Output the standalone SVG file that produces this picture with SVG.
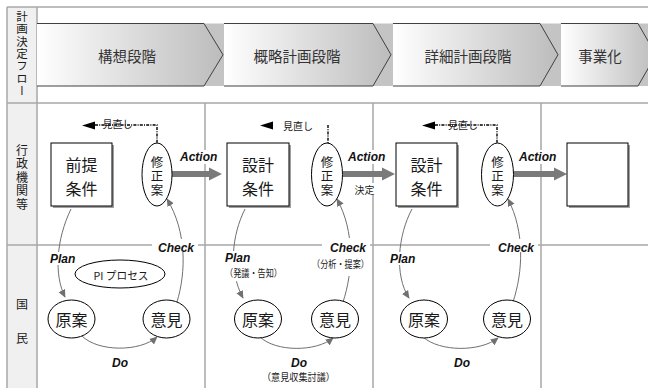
<svg xmlns="http://www.w3.org/2000/svg" width="648" height="388" viewBox="0 0 648 388">
<defs>
<style>
.grid{stroke:#a8a8a8;stroke-width:1.5;fill:none}
.jp{font-family:"Noto Sans CJK JP","Noto Sans CJK SC",sans-serif;fill:#1a1a1a}
.hd{font-size:14.5px;fill:#333;text-anchor:middle;dominant-baseline:central}
.en{font-family:"Liberation Sans",Arial,sans-serif;font-weight:bold;font-style:italic;font-size:12px;fill:#111}
.box{fill:#fff;stroke:#000;stroke-width:1}
.sh{fill:#a0a0a0}
.ell{fill:#fff;stroke:#000;stroke-width:1}
.cv{fill:none;stroke:#707070;stroke-width:1;marker-end:url(#ah)}
.dot{fill:none;stroke:#000;stroke-width:1.4;stroke-dasharray:3 1.2 1 1.2}
.act{fill:#7a7a7a}
.bg{fill:#fff}
.mid{text-anchor:middle;dominant-baseline:central}
.vt{writing-mode:vertical-rl;text-orientation:upright}
.sq{font-size:12.5px;letter-spacing:1.5px}
.bx{font-size:16px}
.chev{stroke:#404040;stroke-width:1;fill:none}
</style>
<linearGradient id="g" x1="0" x2="1" y1="0" y2="0"><stop offset="0" stop-color="#ffffff"/><stop offset="1" stop-color="#bcbcbc"/></linearGradient>
<marker id="ah" viewBox="0 0 10 10" refX="9" refY="5" markerWidth="8" markerHeight="8" markerUnits="userSpaceOnUse" orient="auto"><path d="M0,0.5 L10,5 L0,9.5 Z" fill="#707070"/></marker>
</defs>

<g id="grid">
<rect x="7" y="7" width="30" height="381" fill="#f0f0f0"/>
<path class="grid" d="M7,7 H648 M7,103 H648 M7,245 H648 M7,7 V388 M37,7 V388 M205,103 V388 M373,103 V388 M541,103 V388"/>
</g>

<g id="flow-header">
<rect x="37" y="23.5" width="611" height="62.5" fill="#c4c4c4"/>
<path d="M37,23.5 H204 L223,54.75 L204,86 H37 Z" fill="url(#g)"/>
<path class="chev" d="M37,23.5 H204 L223,54.75 L204,86 H37"/>
<path d="M224,23.5 H373 L391,54.75 L373,86 H224 Z" fill="url(#g)"/>
<path class="chev" d="M224,23.5 H373 L391,54.75 L373,86 H224"/>
<path d="M393,23.5 H540 L558,54.75 L540,86 H393 Z" fill="url(#g)"/>
<path class="chev" d="M393,23.5 H540 L558,54.75 L540,86 H393"/>
<path d="M561,23.5 H638 L656,54.75 L638,86 H561 Z" fill="url(#g)"/>
<path class="chev" d="M561,23.5 H638 L656,54.75 L638,86 H561"/>
<text class="jp hd" x="127" y="55">構想段階</text>
<text class="jp hd" x="297" y="55">概略計画段階</text>
<text class="jp hd" x="468" y="55">詳細計画段階</text>
<text class="jp hd" x="600" y="55">事業化</text>
</g>

<g id="row-labels">
<text class="jp vt" x="22" y="11" font-size="11.5" style="letter-spacing:0.8px">計画決定フロー</text>
<text class="jp vt" x="22" y="144" font-size="12" style="letter-spacing:1.5px">行政機関等</text>
<text class="jp mid" x="22" y="303" font-size="12">国</text>
<text class="jp mid" x="22" y="337" font-size="12">民</text>
</g>

<g id="connectors">
<path class="dot" d="M95,125 H157 V143"/>
<path d="M82,125.5 L95,121.5 L95,129.5 Z" fill="#000"/>
<path class="dot" d="M328,125 V143"/>
<path d="M260,125.5 L273,121.5 L273,129.5 Z" fill="#000"/>
<path class="dot" d="M435,125 H497 V143"/>
<path d="M422,125.5 L435,121.5 L435,129.5 Z" fill="#000"/>
<path class="cv" d="M71,209 C56,240 54,275 65,297"/>
<path class="cv" d="M177,302 C186,272 187,232 167,199"/>
<path class="cv" d="M82,336 C98,352 140,352 157,337"/>
<path class="cv" d="M245,209 C232,235 228,270 243,298"/>
<path class="cv" d="M343,302 C353,272 355,232 337,199"/>
<path class="cv" d="M260,337 C276,352 316,352 333,338"/>
<path class="cv" d="M412,209 C398,235 394,275 409,298"/>
<path class="cv" d="M513,302 C523,272 525,232 508,199"/>
<path class="cv" d="M423,337 C440,352 480,352 498,338"/>
<rect class="bg" x="152" y="239" width="46" height="13"/>
<rect class="bg" x="49" y="252" width="29" height="13"/>
<rect class="bg" x="223" y="251" width="62" height="30"/>
<rect class="bg" x="322" y="238" width="48" height="38"/>
<rect class="bg" x="389" y="252" width="29" height="13"/>
<rect class="bg" x="490" y="239" width="48" height="13"/>
<rect class="bg" x="179" y="150" width="41" height="14"/>
<rect class="bg" x="347" y="150" width="42" height="14"/>
<rect class="bg" x="353" y="183" width="23" height="12"/>
<rect class="bg" x="518" y="150" width="42" height="14"/>
<path class="act" d="M172,171 H209 V167.5 L222,174 L209,180.5 V177 H172 Z"/>
<path class="act" d="M343,171 H382 V167.5 L395,174 L382,180.5 V177 H343 Z"/>
<path class="act" d="M514,171 H554 V167.5 L567,174 L554,180.5 V177 H514 Z"/>
<text class="en" x="180" y="161">Action</text>
<text class="en" x="348" y="161">Action</text>
<text class="en" x="519" y="161">Action</text>
<text class="jp mid" x="364.5" y="189" font-size="10">決定</text>
<text class="jp mid" x="117.5" y="123" font-size="10">見直し</text>
<text class="jp mid" x="298" y="125" font-size="10">見直し</text>
<text class="jp mid" x="463" y="124" font-size="10">見直し</text>
<text class="en" x="50" y="263">Plan</text>
<text class="en" x="158" y="252">Check</text>
<text class="en" x="112" y="367">Do</text>
<text class="en" x="225" y="262">Plan</text>
<text class="jp" x="225" y="277" font-size="10" textLength="57" lengthAdjust="spacingAndGlyphs">（発議・告知）</text>
<text class="en" x="330" y="252">Check</text>
<text class="jp" x="312" y="268" font-size="10" textLength="57" lengthAdjust="spacingAndGlyphs">（分析・提案）</text>
<text class="en" x="291" y="367">Do</text>
<text class="jp" x="262" y="381" font-size="10" textLength="73" lengthAdjust="spacingAndGlyphs">（意見収集討議）</text>
<text class="en" x="390" y="263">Plan</text>
<text class="en" x="498" y="252">Check</text>
<text class="en" x="454" y="367">Do</text>
</g>

<g id="node-zenteijoken">
<rect class="sh" x="53" y="145" width="61" height="63"/>
<rect class="box" x="51" y="143" width="61" height="63"/>
<text class="jp mid bx"><tspan x="81.5" y="163.5">前提</tspan><tspan x="81.5" y="187.5">条件</tspan></text>
</g>
<g id="node-shusei1">
<ellipse class="ell" cx="157" cy="174.5" rx="15" ry="31.5"/>
<text class="jp vt sq" x="157" y="155.5">修正案</text>
</g>
<g id="node-sekkei1">
<rect class="sh" x="229" y="145" width="62" height="63"/>
<rect class="box" x="227" y="143" width="62" height="63"/>
<text class="jp mid bx"><tspan x="258" y="163.5">設計</tspan><tspan x="258" y="187.5">条件</tspan></text>
</g>
<g id="node-shusei2">
<ellipse class="ell" cx="327" cy="174.5" rx="15.5" ry="31.5"/>
<text class="jp vt sq" x="327" y="155.5">修正案</text>
</g>
<g id="node-sekkei2">
<rect class="sh" x="398" y="145" width="61" height="63"/>
<rect class="box" x="396" y="143" width="61" height="63"/>
<text class="jp mid bx"><tspan x="426.5" y="163.5">設計</tspan><tspan x="426.5" y="187.5">条件</tspan></text>
</g>
<g id="node-shusei3">
<ellipse class="ell" cx="497.5" cy="174.5" rx="16" ry="31.5"/>
<text class="jp vt sq" x="497.5" y="155.5">修正案</text>
</g>
<g id="node-jigyouka">
<rect class="sh" x="569" y="145" width="61" height="63"/>
<rect class="box" x="567" y="143" width="61" height="63"/>
</g>

<g id="node-pi">
<ellipse class="ell" cx="120" cy="274" rx="45" ry="14"/>
<text class="jp mid" x="121" y="275" font-size="11" textLength="55" lengthAdjust="spacingAndGlyphs">PI プロセス</text>
</g>
<g id="node-genan1">
<ellipse class="ell" cx="71.5" cy="319" rx="23.5" ry="19"/>
<text class="jp mid" x="71.5" y="319" font-size="16">原案</text>
</g>
<g id="node-iken1">
<ellipse class="ell" cx="166.5" cy="319" rx="23.5" ry="19"/>
<text class="jp mid" x="166.5" y="319" font-size="16">意見</text>
</g>
<g id="node-genan2">
<ellipse class="ell" cx="258" cy="319" rx="23.5" ry="19"/>
<text class="jp mid" x="258" y="319" font-size="16">原案</text>
</g>
<g id="node-iken2">
<ellipse class="ell" cx="335" cy="319" rx="23.5" ry="19"/>
<text class="jp mid" x="335" y="319" font-size="16">意見</text>
</g>
<g id="node-genan3">
<ellipse class="ell" cx="424" cy="319" rx="23.5" ry="19"/>
<text class="jp mid" x="424" y="319" font-size="16">原案</text>
</g>
<g id="node-iken3">
<ellipse class="ell" cx="507" cy="319" rx="23.5" ry="19"/>
<text class="jp mid" x="507" y="319" font-size="16">意見</text>
</g>
</svg>
